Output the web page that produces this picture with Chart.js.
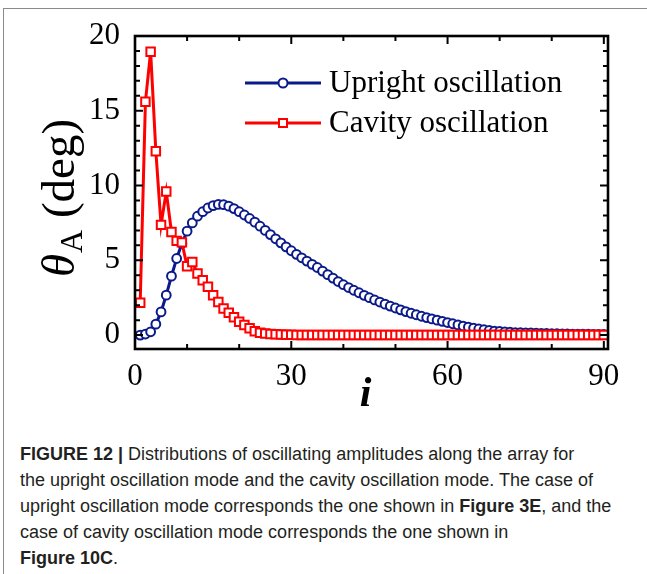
<!DOCTYPE html>
<html><head><meta charset="utf-8">
<script src="https://cdn.jsdelivr.net/npm/chart.js@4/dist/chart.umd.min.js"></script>
<style>
html,body{margin:0;padding:0;background:#fff;width:647px;height:574px;overflow:hidden;}
#frame{position:absolute;left:3px;top:8px;width:700px;height:700px;border-left:1px solid #8a8a8a;border-top:1px solid #8a8a8a;}
#c{position:absolute;left:0;top:0;}
#cap{position:absolute;left:20px;top:441px;font-family:'Liberation Sans',Arial,sans-serif;font-size:18px;line-height:26px;color:#231f20;white-space:nowrap;}
#cap b{font-weight:bold;}
</style></head><body>
<div id="frame"></div>
<canvas id="c" width="647" height="430"></canvas>
<div id="cap"><b>FIGURE 12 |</b> Distributions of oscillating amplitudes along the array for<br>the upright oscillation mode and the cavity oscillation mode. The case of<br>upright oscillation mode corresponds the one shown in <b>Figure 3E</b>, and the<br>case of cavity oscillation mode corresponds the one shown in<br><b>Figure 10C</b>.</div>
<script>
// ---- data ----
const siteIndex = [1,2,3,4,5,6,7,8,9,10,11,12,13,14,15,16,17,18,19,20,21,22,23,24,25,26,27,28,29,30,
  31,32,33,34,35,36,37,38,39,40,41,42,43,44,45,46,47,48,49,50,51,52,53,54,55,56,57,58,59,60,
  61,62,63,64,65,66,67,68,69,70,71,72,73,74,75,76,77,78,79,80,81,82,83,84,85,86,87,88,89,90];
const uprightAmp = [0.0,0.07,0.22,0.73,1.55,2.67,3.94,5.12,6.13,6.95,7.5,7.95,8.25,8.5,8.66,8.74,8.72,8.62,8.46,8.25,
  8.03,7.8,7.55,7.28,7.0,6.72,6.44,6.17,5.9,5.64,5.4,5.17,4.95,4.73,4.52,4.28,4.04,3.81,3.58,3.37,
  3.18,3.0,2.83,2.66,2.5,2.35,2.21,2.07,1.94,1.81,1.69,1.57,1.46,1.36,1.26,1.17,1.08,1.0,0.92,0.84,
  0.76,0.68,0.6,0.53,0.47,0.41,0.36,0.31,0.27,0.24,0.21,0.19,0.17,0.16,0.15,0.14,0.13,0.12,0.11,0.1,
  0.09,0.085,0.08,0.07,0.065,0.06,0.055,0.05,0.05,0.045];
const cavityAmp = [2.16,15.6,18.95,12.3,7.37,9.6,6.9,6.3,6.2,4.6,4.88,4.12,3.67,3.23,2.67,2.22,1.78,1.49,1.2,0.9,
  0.67,0.45,0.25,0.16,0.1,0.07,0.05,0.035,0.025,0.018,0.012,0.008,0.005,0.004,0.003,0.002,0.002,0.001,0.001,0.001,
  0,0,0,0,0,0,0,0,0,0,0,0,0,0,0,0,0,0,0,0,
  0,0,0,0,0,0,0,0,0,0,0,0,0,0,0,0,0,0,0,0,
  0,0,0,0,0,0,0,0,0,0];
const seriesNames = ['Upright oscillation','Cavity oscillation'];
const xTickLabels = [0,30,60,90];
const xMinorTicks = [10,20,40,50,70,80];
const yTickLabels = [0,5,10,15,20];
const yMinorTicks = [1,2,3,4,6,7,8,9,11,12,13,14,16,17,18,19];

const NAVY = '#0b1a8a', RED = '#ff0000';
const SERIF = "'Liberation Serif','Times New Roman',serif";

const toPts = (arr) => arr.map((v,k)=>({x:siteIndex[k], y:v}));

const decorPlugin = {
  id:'decor',
  afterDraw(chart){
    const {ctx, chartArea:a, scales:{x,y}} = chart;
    ctx.save();
    ctx.strokeStyle='#000';
    ctx.lineWidth=2;
    const MAJ=8, MIN=5;
    const xt=(v,len)=>{const p=x.getPixelForValue(v);
      ctx.beginPath();ctx.moveTo(p,a.bottom);ctx.lineTo(p,a.bottom-len);ctx.moveTo(p,a.top);ctx.lineTo(p,a.top+len);ctx.stroke();};
    const yt=(v,len)=>{const p=y.getPixelForValue(v);
      ctx.beginPath();ctx.moveTo(a.left,p);ctx.lineTo(a.left+len,p);ctx.moveTo(a.right,p);ctx.lineTo(a.right-len,p);ctx.stroke();};
    xTickLabels.forEach(v=>xt(v,MAJ)); xMinorTicks.forEach(v=>xt(v,MIN));
    yTickLabels.forEach(v=>yt(v,MAJ)); yMinorTicks.forEach(v=>yt(v,MIN));
    ctx.lineWidth=2.6;
    ctx.strokeRect(a.left,a.top,a.right-a.left,a.bottom-a.top);

    // x title
    ctx.fillStyle='#000';
    ctx.font="italic bold 42px "+SERIF;
    ctx.textAlign='center'; ctx.textBaseline='alphabetic';
    ctx.fillText('i',(a.left+a.right)/2-6,406);

    // y title: θA (deg)
    ctx.save();
    ctx.translate(74,(a.top+a.bottom)/2+6);
    ctx.rotate(-Math.PI/2);
    const fMain=47, fSub=32;
    const t1='θ', t2='A', t3=' (deg)';
    ctx.font="italic "+fMain+"px "+SERIF; const w1=ctx.measureText(t1).width;
    ctx.font=fSub+"px "+SERIF; const w2=ctx.measureText(t2).width;
    ctx.font=fMain+"px "+SERIF; const w3=ctx.measureText(t3).width;
    let sx=-(w1+w2+w3)/2;
    ctx.textAlign='left';
    ctx.font="italic "+fMain+"px "+SERIF; ctx.fillText(t1,sx,0); sx+=w1+1;
    ctx.font=fSub+"px "+SERIF; ctx.fillText(t2,sx,8); sx+=w2;
    ctx.font=fMain+"px "+SERIF; ctx.fillText(t3,sx,0);
    ctx.restore();

    // legend
    const items=[{name:seriesNames[0],color:NAVY,shape:'circle',ly:83},{name:seriesNames[1],color:RED,shape:'rect',ly:123}];
    items.forEach(it=>{
      ctx.strokeStyle=it.color; ctx.lineWidth=3;
      ctx.beginPath();ctx.moveTo(245,it.ly);ctx.lineTo(321,it.ly);ctx.stroke();
      ctx.fillStyle='#fff'; ctx.lineWidth=2;
      ctx.beginPath();
      if(it.shape==='circle'){ctx.arc(283,it.ly,4.5,0,Math.PI*2);} else {ctx.rect(279,it.ly-4,8,8);}
      ctx.fill(); ctx.stroke();
      ctx.fillStyle='#000'; ctx.font="31px "+SERIF; ctx.textAlign='left'; ctx.textBaseline='middle';
      ctx.fillText(it.name,329,it.ly+1);
    });
    ctx.restore();
  }
};

new Chart(document.getElementById('c'),{
  type:'line',
  data:{datasets:[
    {label:seriesNames[0],data:toPts(uprightAmp),borderColor:NAVY,borderWidth:3,backgroundColor:'#fff',
     pointStyle:'circle',pointRadius:4.4,pointBorderWidth:2,pointBorderColor:NAVY,pointBackgroundColor:'#fff',order:1,clip:false},
    {label:seriesNames[1],data:toPts(cavityAmp),borderColor:RED,borderWidth:3,backgroundColor:'#fff',
     pointStyle:'rect',pointRadius:6,pointBorderWidth:2,pointBorderColor:RED,pointBackgroundColor:'#fff',order:0,clip:false}
  ]},
  options:{
    responsive:false,animation:false,devicePixelRatio:1,
    layout:{padding:{left:0,top:36,right:39,bottom:0}},
    plugins:{legend:{display:false},tooltip:{enabled:false},title:{display:false}},
    elements:{line:{tension:0}},
    scales:{
      x:{type:'linear',min:0,max:90.8,position:'bottom',
        grid:{display:false,drawTicks:false},border:{display:false},
        afterBuildTicks:(s)=>{s.ticks=xTickLabels.map(v=>({value:v}));},
        afterFit:(s)=>{s.height=81;},
        ticks:{color:'#000',font:{family:SERIF,size:31},padding:9,maxRotation:0,autoSkip:false}},
      y:{type:'linear',min:-0.93,max:20,
        grid:{display:false,drawTicks:false},border:{display:false},
        afterBuildTicks:(s)=>{s.ticks=yTickLabels.map(v=>({value:v}));},
        afterFit:(s)=>{s.width=135;},
        ticks:{color:'#000',font:{family:SERIF,size:31},padding:15,autoSkip:false}}
    }
  },
  plugins:[decorPlugin]
});
</script>
</body></html>
